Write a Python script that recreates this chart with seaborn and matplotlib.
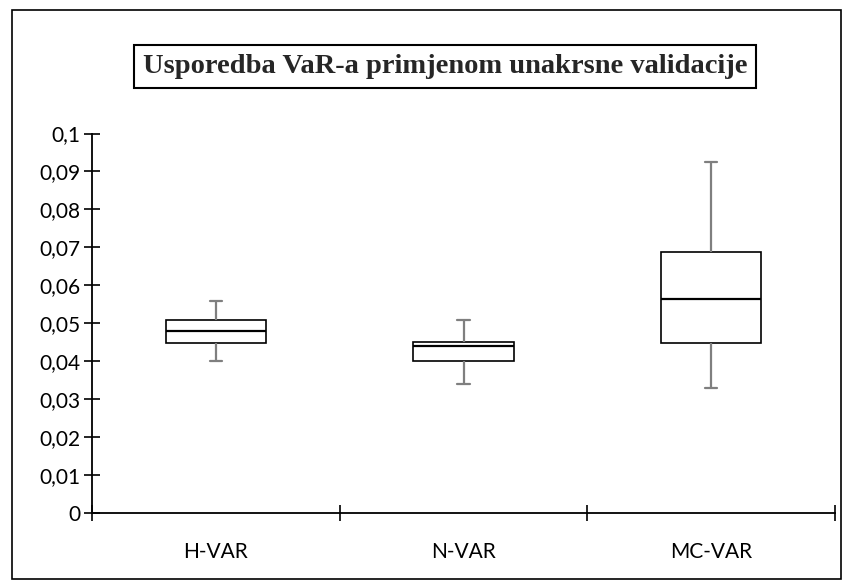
import numpy as np
import pandas as pd
import seaborn as sns
import matplotlib.pyplot as plt
from matplotlib.ticker import FixedLocator, FuncFormatter, MultipleLocator
from matplotlib.patches import Rectangle

# Metode i pet brojeva (min, Q1, medijan, Q3, max) ocitanih sa slike
metode = ['H-VAR', 'N-VAR', 'MC-VAR']
h_var = [0.0400, 0.0447, 0.0478, 0.0508, 0.0558]
n_var = [0.0340, 0.0399, 0.0440, 0.0449, 0.0508]
mc_var = [0.0329, 0.0448, 0.0563, 0.0688, 0.0926]

data = pd.DataFrame({'Metoda': np.repeat(metode, 5),
                     'VaR': h_var + n_var + mc_var})

# Stil
sns.set_style("white")
plt.rcParams['font.family'] = ['Lato', 'DejaVu Sans']

fig = plt.figure(figsize=(8.45, 5.83), dpi=100)
ax = fig.add_axes([0.1089, 0.1209, 0.8793, 0.6501])

sns.boxplot(data=data, x='Metoda', y='VaR', order=metode, whis=(0, 100),
            width=0.404, color='white', saturation=1, linecolor='black',
            linewidth=1.2, ax=ax, capwidths=0.05,
            medianprops=dict(color='black', linewidth=1.6),
            whiskerprops=dict(color='#7f7f7f', linewidth=1.6),
            capprops=dict(color='#7f7f7f', linewidth=1.6))

# Osi
ax.set_xlim(-0.5, 2.5)
ax.set_ylim(0, 0.1)
ax.yaxis.set_major_locator(MultipleLocator(0.01))
ax.yaxis.set_major_formatter(FuncFormatter(lambda v, p: f"{round(v, 2):g}".replace('.', ',')))
ax.xaxis.set_major_locator(FixedLocator([-0.5, 0.5, 1.5, 2.5]))
ax.xaxis.set_major_formatter(FuncFormatter(lambda v, p: ''))
ax.xaxis.set_minor_locator(FixedLocator([0, 1, 2]))
ax.xaxis.set_minor_formatter(FuncFormatter(lambda v, p: metode[int(round(v))]))
ax.tick_params(axis='x', which='major', bottom=True, direction='inout',
               length=11, width=1.2, color='black')
ax.tick_params(axis='x', which='minor', bottom=True, length=0, pad=21,
               labelsize=15, labelcolor='black')
ax.tick_params(axis='y', left=True, direction='inout', length=11, width=1.2,
               color='black', labelsize=15, labelcolor='black', pad=3)
ax.set_xlabel('')
ax.set_ylabel('')
for s in ['top', 'right']:
    ax.spines[s].set_visible(False)
for s in ['left', 'bottom']:
    ax.spines[s].set_color('black')
    ax.spines[s].set_linewidth(1.3)

# Naslov u okviru
fig.text(0.5266, 0.886, 'Usporedba VaR-a primjenom unakrsne validacije',
         ha='center', va='center', fontsize=20.5, fontweight='bold',
         family=['Liberation Serif', 'DejaVu Serif'],
         bbox=dict(boxstyle='square,pad=0.3', facecolor='white',
                   edgecolor='black', linewidth=1.5))

# Okvir oko slike
fig.add_artist(Rectangle((12 / 845, 1 - 579 / 583), 829 / 845, 569 / 583,
                         transform=fig.transFigure, fill=False,
                         edgecolor='black', linewidth=1.2))

plt.savefig('out.png', dpi=100)
